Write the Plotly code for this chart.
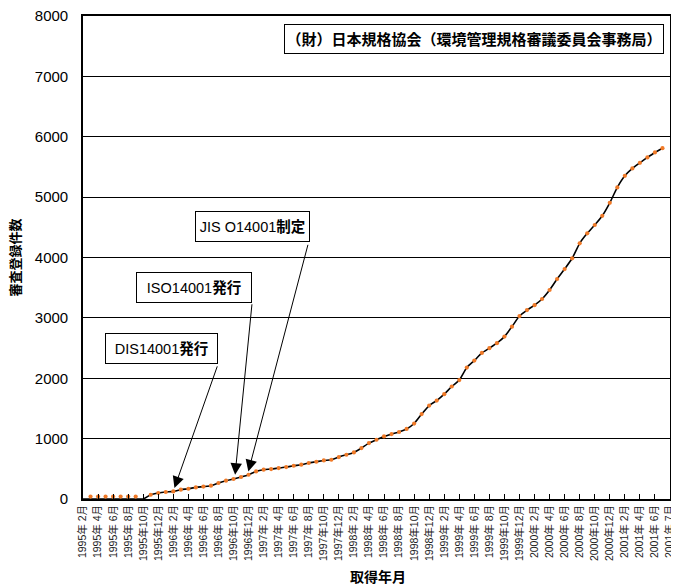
import plotly.graph_objects as go

# cumulative registrations, monthly from 1995年2月 (index 0) to 2001年7月 (index 77)
counts = [0, 0, 0, 0, 0, 0, 0, 0, 0, 70,
          99, 116, 126, 154, 170, 192, 205, 220, 265, 303,
          331, 364, 402, 457, 485, 496, 513, 529, 551, 568,
          596, 617, 639, 650, 695, 733, 771, 844, 926, 981,
          1036, 1075, 1110, 1160, 1250, 1406, 1548, 1631, 1737, 1863,
          1969, 2177, 2293, 2420, 2498, 2581, 2690, 2855, 3030, 3130,
          3210, 3313, 3462, 3644, 3809, 3987, 4235, 4400, 4538, 4691,
          4906, 5161, 5353, 5475, 5568, 5657, 5740, 5810]

# orange dot series as drawn (early months slightly above the axis)
dot_counts = [None, 40, 40, 40, 40, 40, 40, 40, None, 70,
              99, 116, 126, 154, 170, 192, 205, 220, 265, 303,
              331, 364, 402, 457, 485, 496, 513, 529, 551, 568,
              596, 617, 639, 650, 695, 733, 771, 844, 926, 981,
              1036, 1075, 1110, 1160, 1250, 1406, 1548, 1631, 1737, 1863,
              1969, 2177, 2293, 2420, 2498, 2581, 2690, 2855, 3030, 3130,
              3210, 3313, 3462, 3644, 3809, 3987, 4235, 4400, 4538, 4691,
              4906, 5161, 5353, 5475, 5568, 5657, 5740, 5810]

tick_labels = [
    "1995年 2月", "1995年 4月", "1995年 6月", "1995年 8月", "1995年10月", "1995年12月",
    "1996年 2月", "1996年 4月", "1996年 6月", "1996年 8月", "1996年10月", "1996年12月",
    "1997年 2月", "1997年 4月", "1997年 6月", "1997年 8月", "1997年10月", "1997年12月",
    "1998年 2月", "1998年 4月", "1998年 6月", "1998年 8月", "1998年10月", "1998年12月",
    "1999年 2月", "1999年 4月", "1999年 6月", "1999年 8月", "1999年10月", "1999年12月",
    "2000年 2月", "2000年 4月", "2000年 6月", "2000年 8月", "2000年10月", "2000年12月",
    "2001年 2月", "2001年 4月", "2001年 6月", "2001年 7月",
]
tick_positions = list(range(0, 2 * len(tick_labels), 2))

# events: (label, box center x, box center y, box width, arrow tip x, tip y, tail x, tail y)
events = [
    ("DIS14001<b>発行</b>", 10.44, 2495, 111, 12.15, 182, 17.91, 2222),
    ("ISO14001<b>発行</b>", 14.77, 3495, 114, 20.21, 402, 22.47, 3250),
    ("JIS O14001<b>制定</b>", 22.47, 4508, 113, 21.97, 457, 29.94, 4235),
]
source_text = "<b>（財）日本規格協会（環境管理規格審議委員会事務局）</b>"

FONT = "Liberation Sans, Arial, Noto Sans CJK JP, sans-serif"

x = list(range(len(counts)))

fig = go.Figure()
fig.add_trace(go.Scatter(x=x, y=counts, mode="lines",
                         line=dict(color="black", width=1.6, shape="spline", smoothing=0.6),
                         hoverinfo="skip", showlegend=False))
fig.add_trace(go.Scatter(x=x, y=dot_counts, mode="markers",
                         marker=dict(color="#F07A28", size=4.2, line=dict(width=0)),
                         showlegend=False))

annotations = []
for label, bx, by, bw, tx, ty, ax, ay in events:
    annotations.append(dict(x=tx, y=ty, xref="x", yref="y", ax=ax, ay=ay,
                            axref="x", ayref="y", text="", showarrow=True,
                            arrowhead=2, arrowsize=2.3, arrowwidth=1, arrowcolor="black"))
    annotations.append(dict(x=bx, y=by, xref="x", yref="y", text=label, showarrow=False,
                            font=dict(family=FONT, size=14.5, color="black"),
                            bgcolor="white", bordercolor="black", borderwidth=1, borderpad=0,
                            width=bw, height=29, align="center"))
annotations.append(dict(x=52.02, y=7619, xref="x", yref="y", text=source_text, showarrow=False,
                        font=dict(family=FONT, size=15, color="black"),
                        bgcolor="white", bordercolor="black", borderwidth=1, borderpad=0,
                        width=378, height=28, align="center"))
# axis titles
annotations.append(dict(x=0, y=0.5, xref="paper", yref="paper", xshift=-68,
                        xanchor="center", yanchor="middle", text="<b>審査登録件数</b>",
                        textangle=-90, showarrow=False,
                        font=dict(family=FONT, size=13, color="black")))
annotations.append(dict(x=0.502, y=0, xref="paper", yref="paper", yshift=-78,
                        xanchor="center", yanchor="middle", text="<b>取得年月</b>",
                        showarrow=False, font=dict(family=FONT, size=14, color="black")))

fig.update_layout(
    width=671, height=580,
    margin=dict(l=75, r=8.5, t=8, b=88.7, autoexpand=False),
    paper_bgcolor="white", plot_bgcolor="white",
    font=dict(family=FONT, color="black"),
    annotations=annotations,
    showlegend=False,
)
fig.update_xaxes(range=[0, 78], tickmode="array", tickvals=tick_positions, ticktext=tick_labels,
                 tickangle=-90, ticks="inside", ticklen=5, tickwidth=1.2, tickcolor="black",
                 showline=True, linecolor="black", linewidth=1.6, mirror=True,
                 showgrid=False, zeroline=False, automargin=False, ticklabeloverflow="allow",
                 tickfont=dict(family=FONT, size=10.5, color="#222222"))
fig.update_yaxes(range=[0, 8000], dtick=1000, tick0=0, ticks="",
                 showline=True, linecolor="black", linewidth=1.6, mirror=True,
                 showgrid=True, gridcolor="black", gridwidth=1.2, zeroline=False,
                 ticklabelstandoff=10, automargin=False, ticklabeloverflow="allow",
                 tickfont=dict(family=FONT, size=15, color="black"))

fig.write_html("out.html")
